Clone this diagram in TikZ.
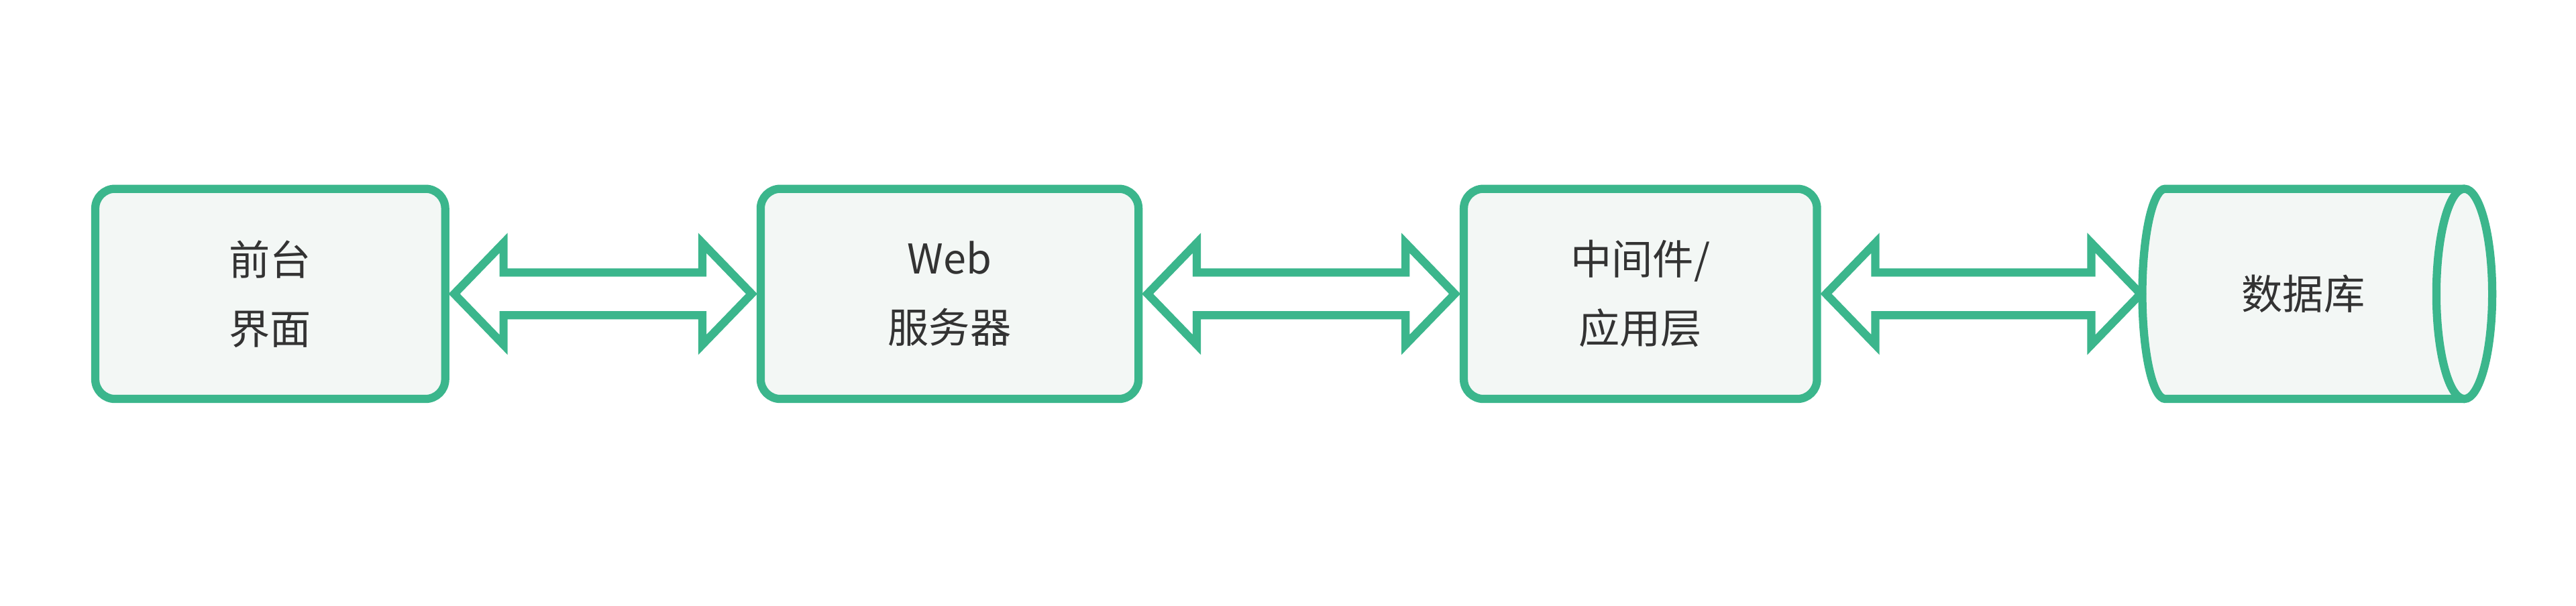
\documentclass[tikz,border=0pt]{standalone}
\usepackage{fontspec}
\setmainfont{Noto Sans CJK SC}
\usetikzlibrary{calc}
\definecolor{gr}{HTML}{3BB68C}
\definecolor{fl}{HTML}{F3F7F5}
\definecolor{tx}{HTML}{333333}
\tikzset{
 box/.style={draw=gr,fill=fl,line width=5pt,rounded corners=12pt,minimum width=213pt,minimum height=128pt,inner sep=0pt,align=center,text=tx,font=\fontsize{25}{42}\selectfont},
 dar/.style={draw=gr,fill=white,line width=5pt,line join=miter}
}
\newcommand{\dblarrow}[2]{%
 \draw[dar] ($(#1.east)+(3,0)$) -- ++(30,-31) -- ++(0,18) -- ($(#2.west)+(-33,-13)$) -- ++(0,-18) -- ($(#2.west)+(-3,0)$) -- ++(-30,31) -- ++(0,-18) -- ($(#1.east)+(33,13)$) -- ++(0,18) -- cycle;}
\begin{document}
\begin{tikzpicture}[x=1pt,y=-1pt]
\fill[white] (0,0) rectangle (1568,369);
\useasboundingbox (0,0) rectangle (1568,369);
\node[box] (a) at (164.5,179) {前台\\界面};
\node[box,minimum width=230pt] (b) at (578,179) {Web\\服务器};
\node[box,minimum width=215pt] (c) at (998.5,179) {中间件/\\应用层};
\coordinate (dw) at (1306,179);
\coordinate (de) at (1518,179);
\draw[draw=gr,fill=fl,line width=5pt] (1500,115) -- (1318,115) arc[start angle=90,end angle=270,x radius=14,y radius=-64] -- (1500,243);
\draw[draw=gr,fill=fl,line width=5pt] (1500,179) ellipse[x radius=17,y radius=64];
\node[text=tx,font=\fontsize{25}{42}\selectfont] (d) at (1402,179) {数据库};
\dblarrow{a}{b}
\dblarrow{b}{c}
\draw[dar] ($(c.east)+(3,0)$) -- ++(30,-31) -- ++(0,18) -- ($(dw)+(-33,-13)$) -- ++(0,-18) -- ($(dw)+(-3,0)$) -- ++(-30,31) -- ++(0,-18) -- ($(c.east)+(33,13)$) -- ++(0,18) -- cycle;
\end{tikzpicture}
\end{document}
